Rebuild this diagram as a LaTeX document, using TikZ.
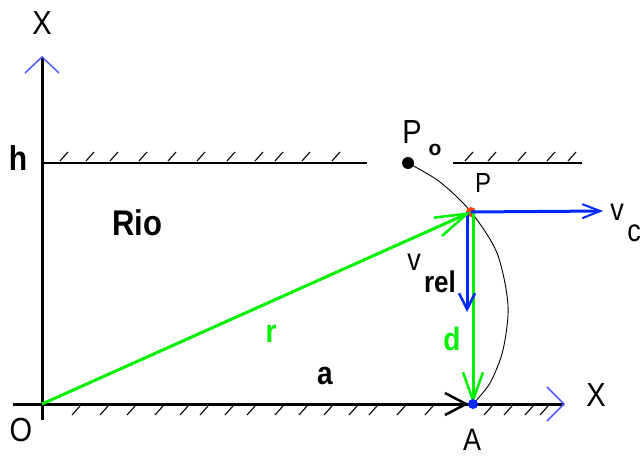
\documentclass[tikz,border=0pt]{standalone}
\usepackage{fontspec}
\setmainfont{Liberation Sans}
\usetikzlibrary{arrows.meta}
\definecolor{grn}{RGB}{0,240,0}
\definecolor{blu}{RGB}{0,40,255}
\definecolor{lblu}{RGB}{80,90,255}
\definecolor{org}{RGB}{255,70,0}
\newcommand\vstr[1]{\scalebox{1}[1.15]{#1}}
\begin{document}
\begin{tikzpicture}[x=1pt,y=-1pt,
  lbl/.style={inner sep=0pt, font=\fontsize{29}{29}\selectfont},
  blbl/.style={inner sep=0pt, font=\fontsize{28}{28}\selectfont\bfseries},
  axis/.style={line width=3pt, black},
  bank/.style={line width=2pt, black},
  hatch/.style={line width=1.1pt, black},
  axhead/.style={lblu, line width=1.5pt},
  path/.style={black, line width=0.9pt},
  vecg/.style={grn, line width=3pt},
  vecb/.style={blu, line width=3pt}]
\useasboundingbox (0,0) rectangle (640,460);
% coordinates
\coordinate (O) at (42,404);
\coordinate (Ytop) at (42,57);
\coordinate (Ybot) at (42,420);
\coordinate (Xl) at (13,404);
\coordinate (Xr) at (564,404);
\coordinate (P) at (471,212);
\coordinate (Pg) at (473,212);
\coordinate (Pb) at (467,212);
\coordinate (A) at (473,404);
\coordinate (Ah) at (466,404);
\coordinate (Po) at (408,163);
\coordinate (B1l) at (42,163);
\coordinate (B1r) at (367,163);
\coordinate (B2l) at (453,163);
\coordinate (B2r) at (582,163);
\coordinate (Vc) at (603,211);
\coordinate (Vr) at (467,312);
% banks
\draw[bank] (B1l) -- (B1r);
\draw[bank] (B2l) -- (B2r);
\foreach \x in {60,86,110,139,168,197,227,255,275,302,332,465,488,518,547,568}
  \draw[hatch] (\x,161) -- ++(8,-9);
\foreach \x in {80,108,135,163,188,208,233,255,283,307,332,357,377,405,433,492,512,533,548}
  \draw[hatch] (\x,406) -- ++(-8,9);
% axes
\draw[axis] (Ybot) -- (Ytop);
\draw[axis] (Xl) -- (Xr);
\draw[axhead] (Ytop) ++(-17,16) -- (Ytop) -- ++(17,16);
\draw[axhead] (Xr) ++(-17,-17) -- (Xr) -- ++(-17,17);
% vector a tip
\draw[black, line width=2.5pt] (Ah) ++(-21,-11) -- (Ah) -- ++(-21,11);
% trajectory
\draw[path] plot[smooth] coordinates {(Po) (440,182) (P) (497,253) (508,305) (503,350) (490,383) (A)};
% points
\fill[org] (P) circle (5);
\fill[black] (Po) circle (6);
% vectors
\draw[vecg, -{Straight Barb[length=28pt,width=20pt,line width=2.5pt]}] (Pg) -- (A);
\draw[vecb, -{Straight Barb[length=16pt,width=16pt,line width=2.5pt]}] (Pb) -- (Vr);
\draw[vecg, -{Straight Barb[length=32pt,width=20pt,line width=2.5pt]}] (O) -- (P);
\draw[vecb, -{Straight Barb[length=18pt,width=14pt,line width=2pt]}] (P) -- (Vc);
\fill[blu] (A) circle (5);
% labels
\node[lbl] (xtop) at (42,23) {\vstr{X}};
\node[blbl, font=\fontsize{30}{30}\selectfont\bfseries] (hlbl) at (18,158) {\vstr{h}};
\node[blbl, font=\fontsize{31}{31}\selectfont\bfseries] (rio) at (137,223) {\vstr{Rio}};
\node[lbl] (polbl) at (412,132) {\vstr{P}};
\node[blbl, font=\fontsize{21}{21}\selectfont\bfseries] (posub) at (435,150) {o};
\node[lbl, font=\fontsize{24}{24}\selectfont] (plbl) at (483,183) {\vstr{P}};
\node[lbl, font=\fontsize{27}{27}\selectfont] (vclbl) at (617,212) {\vstr{v}};
\node[lbl, font=\fontsize{27}{27}\selectfont] (vcsub) at (634,233) {\vstr{c}};
\node[lbl, font=\fontsize{27}{27}\selectfont] (vrlbl) at (414,262) {\vstr{v}};
\node[blbl, font=\fontsize{26}{26}\selectfont\bfseries] (relsub) at (440,282) {\vstr{rel}};
\node[blbl, grn] (rlbl) at (271,334) {\vstr{r}};
\node[blbl] (albl) at (325,376) {\vstr{a}};
\node[blbl, grn] (dlbl) at (452,339) {\vstr{d}};
\node[lbl] (olbl) at (21,430) {\vstr{O}};
\node[lbl, font=\fontsize{27}{27}\selectfont] (alblA) at (472,440) {\vstr{A}};
\node[lbl] (xright) at (596,395) {\vstr{X}};
\end{tikzpicture}
\end{document}
